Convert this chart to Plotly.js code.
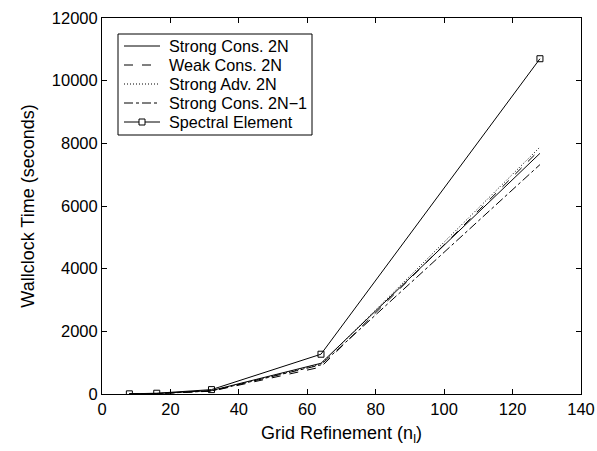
<!DOCTYPE html>
<html><head><meta charset="utf-8">
<script src="https://cdn.plot.ly/plotly-3.0.1.min.js"></script>
<style>html,body{margin:0;padding:0;background:#fff}#c{width:597px;height:451px}</style>
</head><body><div id="c"></div>
<script>
const gridN = [8, 16, 32, 64, 128];
const strongCons2N = [3, 15, 110, 980, 7680];
const weakCons2N = [3, 12, 90, 860, 7800];
const strongAdv2N = [3, 14, 100, 950, 7880];
const strongCons2N1 = [3, 13, 95, 930, 7320];
const spectral = [5, 25, 140, 1270, 10700];
const names = ['Strong Cons. 2N', 'Weak Cons. 2N', 'Strong Adv. 2N', 'Strong Cons. 2N\u22121', 'Spectral Element'];
const dashes = ['solid', 'dash', '1px,2px', 'dashdot', 'solid'];

const F = 'Liberation Sans, Arial, sans-serif';
const series = [strongCons2N, weakCons2N, strongAdv2N, strongCons2N1, spectral];
const traces = series.map((y, i) => ({
  x: gridN, y: y, name: names[i], type: 'scatter', mode: i === 4 ? 'lines+markers' : 'lines',
  line: {color: '#000', width: 1, dash: dashes[i]},
  marker: {symbol: 'square-open', size: 6, color: '#000', line: {width: 1, color: '#000'}}
}));

// plot area in pixels (for placing the hand-built legend)
const W = 597, H = 451, ML = 102, MR = 16, MT = 18, MB = 57;
const PW = W - ML - MR, PH = H - MT - MB;
const px = p => (p - ML) / PW;
const py = p => (H - MB - p) / PH;
const ROW0 = 46, ROWH = 19;

const shapes = [{type: 'rect', xref: 'paper', yref: 'paper', layer: 'above',
  x0: px(118), x1: px(312), y0: py(135), y1: py(34), fillcolor: '#fff', line: {color: '#000', width: 1}}];
const annotations = [];
names.forEach((n, i) => {
  const yy = ROW0 + ROWH * i;
  shapes.push({type: 'line', xref: 'paper', yref: 'paper', layer: 'above',
    x0: px(124), x1: px(160), y0: py(yy), y1: py(yy), line: {color: '#000', width: 1, dash: dashes[i]}});
  annotations.push({xref: 'paper', yref: 'paper', x: px(167), y: py(yy), xanchor: 'left', yanchor: 'middle',
    text: n, showarrow: false, font: {family: F, size: 16.2, color: '#000'}});
});
shapes.push({type: 'rect', xref: 'paper', yref: 'paper', layer: 'above',
  x0: px(139), x1: px(145), y0: py(ROW0 + ROWH * 4 + 3), y1: py(ROW0 + ROWH * 4 - 3), fillcolor: '#fff', line: {color: '#000', width: 1}});

const ax = {showgrid: false, zeroline: false, showline: true, mirror: 'ticks', linecolor: '#000', linewidth: 1,
  ticks: 'inside', ticklen: 5, tickcolor: '#000', tickformat: 'd', tickfont: {family: F, size: 16.5, color: '#000'}};
const layout = {
  width: W, height: H,
  margin: {l: ML, r: MR, t: MT, b: MB},
  paper_bgcolor: '#fff', plot_bgcolor: '#fff',
  font: {family: F, color: '#000'},
  showlegend: false,
  shapes: shapes, annotations: annotations,
  xaxis: Object.assign({}, ax, {range: [0, 140], dtick: 20,
    title: {text: 'Grid Refinement (n<sub>l</sub>)', font: {family: F, size: 18, color: '#000'}, standoff: 9}}),
  yaxis: Object.assign({}, ax, {range: [0, 12000], dtick: 2000,
    title: {text: 'Wallclock Time (seconds)', font: {family: F, size: 18, color: '#000'}, standoff: 12}})
};
Plotly.newPlot('c', traces, layout, {displayModeBar: false, staticPlot: true});
</script></body></html>
